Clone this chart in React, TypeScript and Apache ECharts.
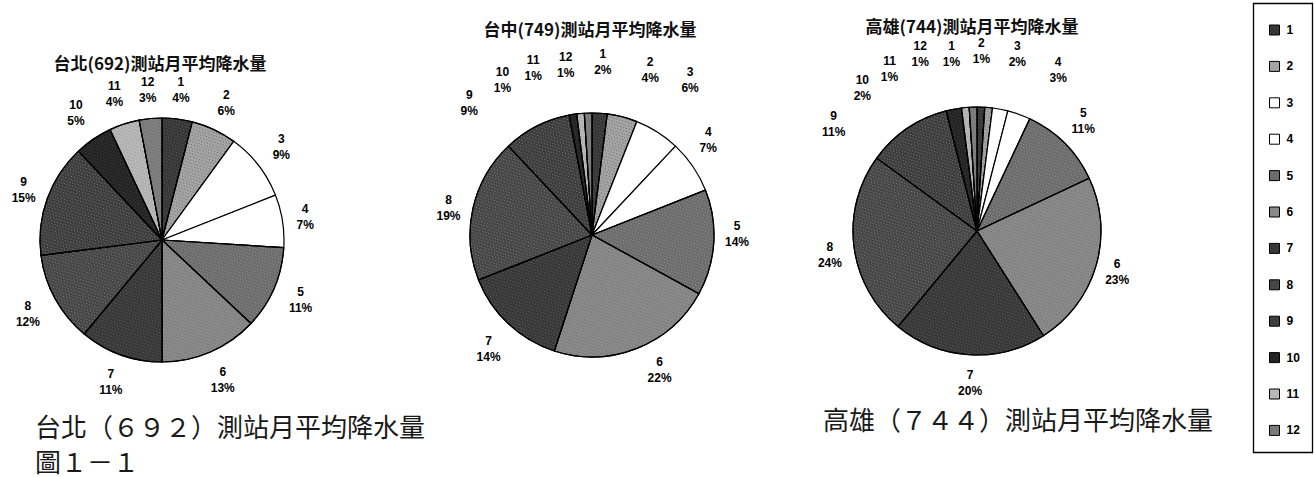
import React, { useEffect, useRef } from 'react';
import * as echarts from 'echarts';

// ---- data (percent of annual rainfall by month) ----
const months = ['1', '2', '3', '4', '5', '6', '7', '8', '9', '10', '11', '12'];
const taipeiPct = [4, 6, 9, 7, 11, 13, 11, 12, 15, 5, 4, 3];
const taichungPct = [2, 4, 6, 7, 14, 22, 14, 19, 9, 1, 1, 1];
const kaohsiungPct = [1, 1, 2, 3, 11, 23, 20, 24, 11, 2, 1, 1];

const taipeiTitle = '台北(692)測站月平均降水量';
const taichungTitle = '台中(749)測站月平均降水量';
const kaohsiungTitle = '高雄(744)測站月平均降水量';
const taipeiCaption = '台北（６９２）測站月平均降水量';
const kaohsiungCaption = '高雄（７４４）測站月平均降水量';
const figureCaption = '圖１－１';

// ---- styles ----
const monthColors = [
  '#363636', '#a4a4a4', '#ffffff', '#ffffff', '#6c6c6c', '#8a8a8a',
  '#383838', '#474747', '#3e3e3e', '#242424', '#b8b8b8', '#7a7a7a',
];
// speckle texture colour per month (null = plain)
const monthSpeckle = [
  'rgba(255,255,255,0.22)', 'rgba(0,0,0,0.35)', null, null, 'rgba(255,255,255,0.28)', 'rgba(0,0,0,0.22)',
  'rgba(255,255,255,0.22)', 'rgba(255,255,255,0.3)', 'rgba(255,255,255,0.3)', 'rgba(255,255,255,0.15)', 'rgba(0,0,0,0.2)', 'rgba(255,255,255,0.2)',
];

// label placement tweaks (angular turn in degrees, extra radial push in px), Excel-like
const taipeiTurn = [0, 0, 0, 0, 0, 0, 0, 0, 0, 0, 0, 0];
const taipeiPush = [0, 0, 0, -6, 0, 2, 0, 2, -4, 2, 3, 0];
const taichungTurn = [0, 5, 0, -5, -4, -5, -1, -2, -16, -21, -14, -7];
const taichungPush = [23, 25, 33, 0, -5, 1, 4, -4, 30, 29, 27, 22];
const kaohsiungTurn = [-10, -4, 2, 7, -1, 0, -1, -2, -19, -28, -23, -16];
const kaohsiungPush = [29, 30, 32, 30, 3, -4, 2, -1, 29, 33, 34, 36];

const CJK = '"Noto Sans CJK TC", "Noto Sans CJK SC", sans-serif';
const LATIN = '"Liberation Sans", Arial, sans-serif';

function labelLayoutFor(values: number[], cx: number, cy: number, baseR: number, turn: number[], push: number[]) {
  const total = values.reduce((a, b) => a + b, 0);
  const mids: number[] = [];
  let acc = 0;
  values.forEach((v) => {
    mids.push(((acc + v / 2) / total) * 360);
    acc += v;
  });
  return (params: any) => {
    const i = params.dataIndex;
    const a = ((mids[i] + turn[i]) * Math.PI) / 180;
    const r = baseR + push[i];
    return {
      x: cx + r * Math.sin(a),
      y: cy - r * Math.cos(a),
      align: 'center',
      verticalAlign: 'middle',
    };
  };
}

function pieSeries(name: string, values: number[], cx: number, cy: number, r: number, labelR: number, turn: number[], push: number[]) {
  return {
    type: 'pie',
    name,
    center: [cx, cy],
    radius: [0, r],
    startAngle: 90,
    clockwise: true,
    avoidLabelOverlap: false,
    silent: true,
    data: values.map((v, i) => ({
      name: months[i],
      value: v,
      itemStyle: {
        color: monthColors[i],
        decal: monthSpeckle[i]
          ? {
              symbol: 'rect',
              symbolSize: 1,
              color: monthSpeckle[i],
              dashArrayX: [[1, 2], [0, 1, 1, 1]],
              dashArrayY: [1, 2],
              rotation: 0.3,
            }
          : 'none',
      },
    })),
    itemStyle: { borderColor: '#000', borderWidth: 1.2 },
    label: {
      show: true,
      position: 'outside',
      formatter: (p: any) => `${p.name}\n${p.value}%`,
      color: '#000',
      fontFamily: LATIN,
      fontWeight: 'bold',
      fontSize: 12,
      lineHeight: 16,
    },
    labelLine: { show: false },
    labelLayout: labelLayoutFor(values, cx, cy, labelR, turn, push),
  };
}

export default function App() {
  const ref = useRef<HTMLDivElement>(null);
  useEffect(() => {
    document.body.style.margin = '0';
    const chart = echarts.init(ref.current!, undefined, { renderer: 'svg' });
    const titleStyle = (text: string, x: number, y: number) => ({
      type: 'text',
      x,
      y,
      style: {
        text,
        fill: '#111',
        font: `bold 17px ${CJK}`,
        textAlign: 'center',
        textVerticalAlign: 'middle',
      },
    });
    const captionStyle = (text: string, x: number, y: number) => ({
      type: 'text',
      x,
      y,
      style: {
        text,
        fill: '#1a1a1a',
        font: `26px ${CJK}`,
        textAlign: 'left',
        textVerticalAlign: 'middle',
      },
    });
    chart.setOption({
      animation: false,
      backgroundColor: '#ffffff',
      legend: {
        orient: 'vertical',
        left: 1264,
        top: 19,
        itemWidth: 10,
        itemHeight: 10,
        itemGap: 24.4,
        selectedMode: false,
        data: months,
        icon: 'rect',
        itemStyle: { borderColor: '#000', borderWidth: 1, decal: 'none' },
        textStyle: { color: '#000', fontFamily: LATIN, fontWeight: 'bold', fontSize: 12, padding: [0, 0, 0, 2] },
      },
      graphic: [
        titleStyle(taipeiTitle, 160, 62),
        titleStyle(taichungTitle, 590, 28),
        titleStyle(kaohsiungTitle, 972, 25),
        captionStyle(taipeiCaption, 35, 425),
        captionStyle(figureCaption, 35, 460),
        captionStyle(kaohsiungCaption, 823, 418),
        {
          type: 'rect',
          shape: { x: 1253.5, y: 3.5, width: 59, height: 449 },
          style: { fill: 'none', stroke: '#000', lineWidth: 1.3 },
        },
      ],
      series: [
        pieSeries('台北', taipeiPct, 162, 240, 122, 151, taipeiTurn, taipeiPush),
        pieSeries('台中', taichungPct, 592, 235, 122, 150, taichungTurn, taichungPush),
        pieSeries('高雄', kaohsiungPct, 977, 231, 124, 150, kaohsiungTurn, kaohsiungPush),
      ],
    });
    return () => chart.dispose();
  }, []);
  return <div ref={ref} style={{ position: 'fixed', left: 0, top: 0, width: 1314, height: 477 }} />;
}
